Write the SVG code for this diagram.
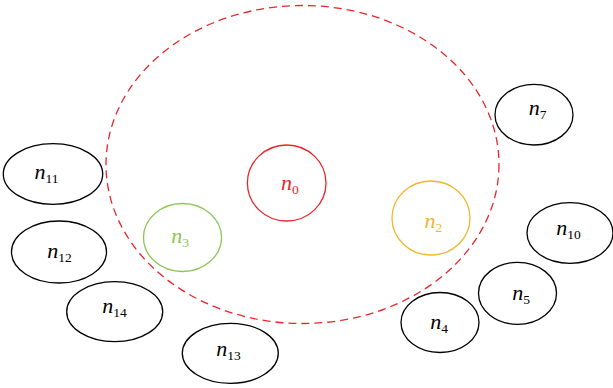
<svg xmlns="http://www.w3.org/2000/svg" width="613" height="388" viewBox="0 0 613 388">
<style>
.nd{fill:none;stroke:#000;stroke-width:1.3}
.lb{font-family:"Liberation Serif","DejaVu Serif",serif;font-style:italic;font-size:22px;fill:#000}
.sb{font-style:normal;font-size:13.5px}
.red{stroke:#E8262A}
.redt{fill:#E8262A}
.org{stroke:#F2B62C}
.orgt{fill:#F2B62C}
.grn{stroke:#8DC653}
.grnt{fill:#8DC653}
</style>
<rect width="613" height="388" fill="#fff"/>
<g id="connectors">
<ellipse cx="302.5" cy="164.5" rx="196.5" ry="159" fill="none" stroke="#E8262A" stroke-width="1.3" stroke-dasharray="8,5"/>
</g>
<g id="n0"><ellipse class="nd red" cx="286.7" cy="183" rx="39.3" ry="38"/><text class="lb redt" x="281" y="190">n<tspan class="sb" dy="4">0</tspan></text></g>
<g id="n2"><ellipse class="nd org" cx="431" cy="218" rx="39" ry="37"/><text class="lb orgt" x="424.5" y="228.3">n<tspan class="sb" dy="4">2</tspan></text></g>
<g id="n3"><ellipse class="nd grn" cx="182.5" cy="237.5" rx="39" ry="34"/><text class="lb grnt" x="171.2" y="243.3">n<tspan class="sb" dy="4">3</tspan></text></g>
<g id="n7"><ellipse class="nd" cx="534" cy="114.7" rx="39" ry="30.3"/><text class="lb" x="528.8" y="115">n<tspan class="sb" dy="4">7</tspan></text></g>
<g id="n10"><ellipse class="nd" cx="570" cy="233" rx="43" ry="30.3"/><text class="lb" x="556.2" y="235">n<tspan class="sb" dy="4">10</tspan></text></g>
<g id="n5"><ellipse class="nd" cx="517.5" cy="293.3" rx="39" ry="31"/><text class="lb" x="512.2" y="300">n<tspan class="sb" dy="4">5</tspan></text></g>
<g id="n4"><ellipse class="nd" cx="440" cy="322.5" rx="39" ry="30"/><text class="lb" x="430.2" y="329.3">n<tspan class="sb" dy="4">4</tspan></text></g>
<g id="n11"><ellipse class="nd" cx="53" cy="174" rx="49.7" ry="30.3"/><text class="lb" x="34.5" y="179.3">n<tspan class="sb" dy="4">11</tspan></text></g>
<g id="n12"><ellipse class="nd" cx="59" cy="252" rx="47.5" ry="31"/><text class="lb" x="47.2" y="258.3">n<tspan class="sb" dy="4">12</tspan></text></g>
<g id="n14"><ellipse class="nd" cx="114.7" cy="311.7" rx="48" ry="30"/><text class="lb" x="102.2" y="312.7">n<tspan class="sb" dy="4">14</tspan></text></g>
<g id="n13"><ellipse class="nd" cx="230.3" cy="353.3" rx="48" ry="30"/><text class="lb" x="216.2" y="356">n<tspan class="sb" dy="4">13</tspan></text></g>
</svg>
